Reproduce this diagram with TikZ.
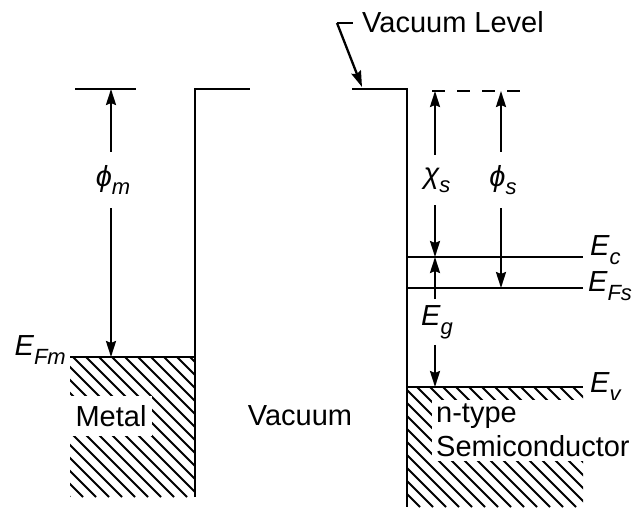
\documentclass[tikz,border=0pt]{standalone}
\usepackage{fontspec}
\setmainfont{Liberation Sans}
\usetikzlibrary{arrows.meta}
\newcommand{\lsub}[1]{\raisebox{-0.3em}{\fontsize{22}{22}\selectfont #1}}
\tikzset{
  band/.style={line width=2.6pt},
  hatch/.style={line width=1.8pt},
  dimlbl/.style={inner xsep=6pt, inner ysep=13pt, font=\fontsize{29}{34}\selectfont\itshape},
  dim/.style={line width=2.3pt, -{Stealth[length=16pt,width=10pt,inset=2pt]}},
}
\begin{document}
\begin{tikzpicture}[x=1pt,y=-1pt,font=\fontsize{29}{34}\selectfont]
\useasboundingbox (0,0) rectangle (633,508);
% level points
\coordinate (mtop) at (111,89);
\coordinate (efm) at (111,357);
\coordinate (chitop) at (435,91);
\coordinate (ec) at (435,257);
\coordinate (ev) at (435,387);
\coordinate (phistop) at (501,91);
\coordinate (efs) at (501,288);
\coordinate (tick) at (337,23);
\coordinate (vltip) at (362,87);

% hatching
\begin{scope}
\clip (70,357) rectangle (195,497);
\foreach \i in {0,...,22}
  \draw[hatch] ({-70+13*\i},357) -- ++(140,140);
\end{scope}
\begin{scope}
\clip (407,387) rectangle (583,507);
\foreach \i in {0,...,24}
  \draw[hatch] ({287+13*\i},387) -- ++(120,120);
\end{scope}

% metal side
\draw[band] (75,89) -- (136,89);
\draw[band] (70,357) -- (195,357);
\draw[band] (195,497) -- (195,89) -- (250,89);
\node[anchor=east, inner sep=2pt] (efmlbl) at (68,350) {\itshape E\lsub{Fm}};
\node[dimlbl] (phim) at (113,180) {ϕ\lsub{m}};
\draw[dim] (mtop |- phim.north) -- (mtop);
\draw[dim] (mtop |- phim.south) -- (efm);

% semiconductor side
\draw[band] (352,89) -- (407,89) -- (407,507);
\draw[band, dash pattern=on 13pt off 12pt] (432,91) -- (522,91);
\draw[band] (407,257) -- (583,257);
\draw[band] (407,288) -- (583,288);
\draw[band] (407,387) -- (583,387);
\node[anchor=west, inner sep=2pt] (eclbl) at (588,250) {\itshape E\lsub{c}};
\node[anchor=west, inner sep=1pt] (efslbl) at (587,286) {\itshape E\lsub{Fs}};
\node[anchor=west, inner sep=2pt] (evlbl) at (588,387) {\itshape E\lsub{v}};
\node[dimlbl] (chis) at (437,180) {χ\lsub{s}};
\draw[dim] (chitop |- chis.north) -- (chitop);
\draw[dim] (chitop |- chis.south) -- (ec);
\node[dimlbl] (phis) at (503,180) {ϕ\lsub{s}};
\draw[dim] (phistop |- phis.north) -- (phistop);
\draw[dim] (phistop |- phis.south) -- (efs);
\node[dimlbl, inner ysep=6pt] (eg) at (437,322) {E\lsub{g}};
\draw[dim] (ec |- eg.north) -- (ec);
\draw[dim] (ec |- eg.south) -- (ev);

% region labels
\node[fill=white, inner xsep=6pt, inner ysep=9pt] (metal) at (111,416) {Metal};
\node (vacuum) at (300,416) {Vacuum};
\node[fill=white, anchor=north west, align=left, inner sep=4pt] (semi) at (432,400) {n-type\\Semiconductor};

% vacuum level pointer
\node[anchor=west, inner sep=2pt] (vl) at (360,22) {Vacuum Level};
\draw[band] (tick) -- ++(16,0);
\draw[dim] (tick) -- (vltip);
\end{tikzpicture}
\end{document}
